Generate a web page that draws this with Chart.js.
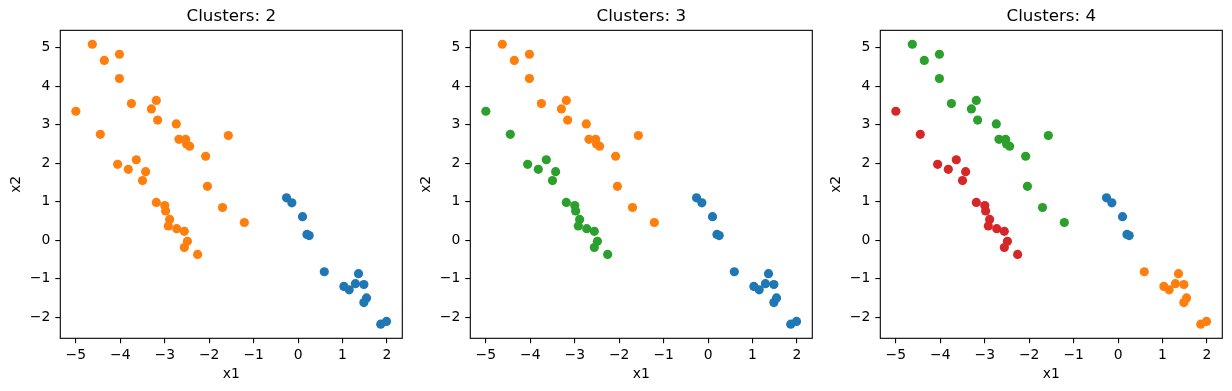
<!DOCTYPE html>
<html>
<head>
<meta charset="utf-8">
<script src="https://cdn.jsdelivr.net/npm/chart.js@4"></script>
<style>
  body { margin: 0; background: #fff; }
  .panel { position: absolute; top: 0; width: 410px; height: 391px; }
</style>
</head>
<body>
<div class="panel" style="left:0px"><canvas id="c2"></canvas></div>
<div class="panel" style="left:410px"><canvas id="c3"></canvas></div>
<div class="panel" style="left:820px"><canvas id="c4"></canvas></div>
<script>
// tick labels
const xTicks = [-5, -4, -3, -2, -1, 0, 1, 2];
const yTicks = [-2, -1, 0, 1, 2, 3, 4, 5];

// point coordinates
const x1 = [
  -4.63, -4.36, -4.02, -4.02, -5.00, -3.75, -3.19, -3.30, -3.16, -4.45,
  -2.74, -2.68, -2.53, -2.51, -2.44, -1.57, -2.08, -4.06, -3.64, -3.82,
  -3.43, -3.50, -2.04, -3.19, -3.00, -2.98, -2.89, -2.92, -2.73, -2.56,
  -2.49, -2.56, -2.26, -1.70, -1.21,
  -0.26, -0.14, 0.10, 0.20, 0.25, 0.59, 1.03, 1.15, 1.29, 1.36,
  1.48, 1.48, 1.54, 1.86, 1.99
];
const x2 = [
  5.09, 4.67, 4.83, 4.20, 3.35, 3.55, 3.63, 3.41, 3.12, 2.75,
  3.02, 2.62, 2.62, 2.50, 2.44, 2.72, 2.18, 1.97, 2.09, 1.84,
  1.78, 1.55, 1.40, 0.98, 0.90, 0.76, 0.54, 0.37, 0.30, 0.23,
  -0.03, -0.19, -0.37, 0.85, 0.46,
  1.10, 0.97, 0.61, 0.15, 0.12, -0.82, -1.20, -1.29, -1.13, -0.87,
  -1.15, -1.62, -1.50, -2.18, -2.11
];

// cluster labels for each run
const labelsK2 = [
  1,1,1,1,1,1,1,1,1,1, 1,1,1,1,1,1,1,1,1,1, 1,1,1,1,1,1,1,1,1,1, 1,1,1,1,1,
  0,0,0,0,0,0,0,0,0,0, 0,0,0,0,0
];
const labelsK3 = [
  1,1,1,1,2,1,1,1,1,2, 1,1,1,1,1,1,1,2,2,2, 2,2,1,2,2,2,2,2,2,2, 2,2,2,1,1,
  0,0,0,0,0,0,0,0,0,0, 0,0,0,0,0
];
const labelsK4 = [
  2,2,2,2,3,2,2,2,2,3, 2,2,2,2,2,2,2,3,3,3, 3,3,2,3,3,3,3,3,3,3, 3,3,3,2,2,
  0,0,0,0,0,1,1,1,1,1, 1,1,1,1,1
];

const palette = ['#1f77b4', '#ff7f0e', '#2ca02c', '#d62728'];
const FONT = 'DejaVu Sans';

const fmt = v => v < 0 ? '\u2212' + (-v) : String(v);

const framePlugin = {
  id: 'frame',
  afterDraw(chart) {
    const { ctx, chartArea: a } = chart;
    ctx.save();
    ctx.strokeStyle = '#000';
    ctx.lineWidth = 1.1;
    ctx.strokeRect(a.left, a.top, a.right - a.left, a.bottom - a.top);
    ctx.restore();
  }
};

function makePanel(canvasId, k, labels) {
  const ctx = document.getElementById(canvasId).getContext('2d');
  return new Chart(ctx, {
    type: 'scatter',
    data: {
      datasets: [{
        data: x1.map((x, i) => ({ x, y: x2[i] })),
        pointBackgroundColor: labels.map(l => palette[l]),
        pointBorderWidth: 0,
        pointRadius: 4.6,
        pointHoverRadius: 4.6
      }]
    },
    options: {
      responsive: true, maintainAspectRatio: false,
      animation: false,
      layout: { padding: { left: 0, right: 7.7, top: 0, bottom: 0 } },
      plugins: {
        legend: { display: false },
        tooltip: { enabled: false },
        title: {
          display: true, fullSize: false,
          text: 'Clusters: ' + k,
          color: '#000',
          font: { family: FONT, size: 16.7, weight: 'normal', lineHeight: 1.2 },
          padding: { top: 6.3, bottom: 4 }
        }
      },
      scales: {
        x: {
          type: 'linear', min: -5.35, max: 2.345,
          afterBuildTicks: s => { s.ticks = xTicks.map(v => ({ value: v })); },
          afterFit: s => { s.height = 52.7; },
          grid: { drawOnChartArea: false, drawTicks: true, tickLength: 5, color: '#000', lineWidth: 1.1 },
          border: { display: false },
          ticks: { color: '#000', padding: 4, font: { family: FONT, size: 13.9 }, callback: fmt, maxRotation: 0 },
          title: { display: true, text: 'x1', color: '#000', font: { family: FONT, size: 13.9 }, padding: { top: 0, bottom: 8.7 } }
        },
        y: {
          type: 'linear', min: -2.548, max: 5.451,
          afterBuildTicks: s => { s.ticks = yTicks.map(v => ({ value: v })); },
          afterFit: s => { s.width = 60.3; },
          grid: { drawOnChartArea: false, drawTicks: true, tickLength: 5, color: '#000', lineWidth: 1.1 },
          border: { display: false },
          ticks: { color: '#000', padding: 5, font: { family: FONT, size: 13.9 }, callback: fmt },
          title: { display: true, text: 'x2', color: '#000', font: { family: FONT, size: 13.9 }, padding: { top: 8.4, bottom: 0 } }
        }
      }
    },
    plugins: [framePlugin]
  });
}

makePanel('c2', 2, labelsK2);
makePanel('c3', 3, labelsK3);
makePanel('c4', 4, labelsK4);
</script>
</body>
</html>
